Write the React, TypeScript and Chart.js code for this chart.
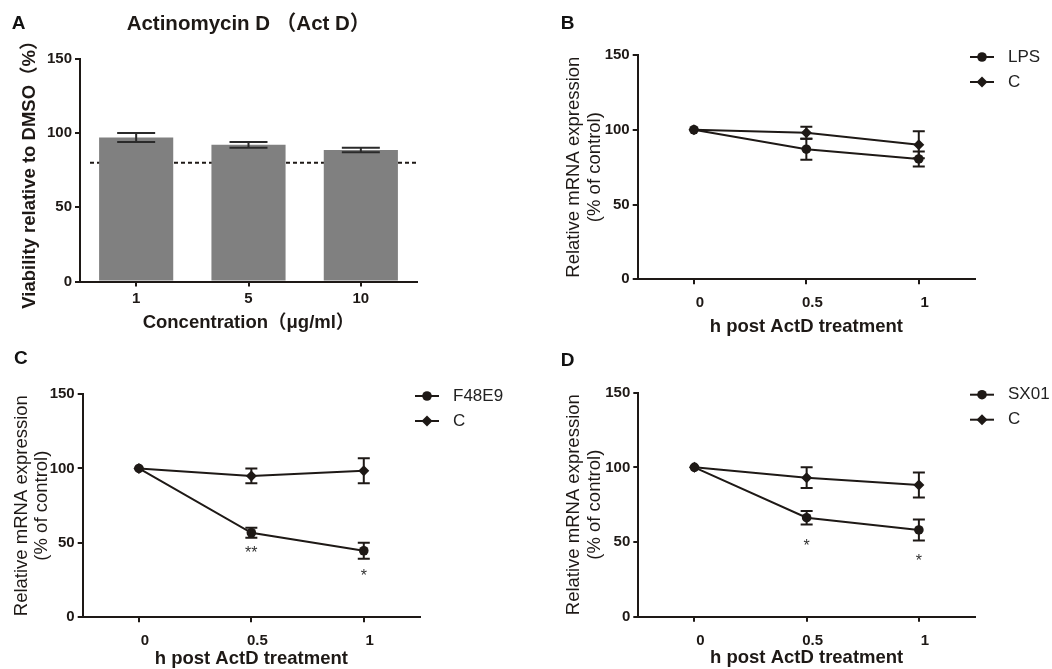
import React, { useEffect, useRef } from "react";
import { Chart, registerables } from "chart.js";

Chart.register(...registerables);

const FONT = "'Liberation Sans', Arial, 'Noto Sans CJK SC', sans-serif";
const INK = "#1e1916";
const BAR_GRAY = "#808080";

// ---------- Panel A data ----------
const concentrations = ["1", "5", "10"];
const viability = [97, 92, 88.5];
const viabilityErr = [3, 2, 1.5];
const viabilityThreshold = 80;

// ---------- Panels B-D shared ----------
const timePoints = [0, 0.5, 1];
const yTickValues = [0, 50, 100, 150];

// Panel B
const lpsMean = [100, 87, 80.5];
const lpsErr = [0, 7, 5];
const ctrlBMean = [100, 98, 90];
const ctrlBErr = [0, 4, 9];

// Panel C
const f48e9Mean = [100, 56.8, 44.7];
const f48e9Err = [0, 3.4, 5.4];
const ctrlCMean = [100, 95, 98.5];
const ctrlCErr = [0, 5, 8.4];
const starsC = ["", "**", "*"];
const starsCLevel: (number | null)[] = [null, 45, 29.5];

// Panel D
const sx01Mean = [100, 66.3, 58.1];
const sx01Err = [0, 4.5, 7];
const ctrlDMean = [100, 93.1, 88.2];
const ctrlDErr = [0, 7, 8.4];
const starsD = ["", "*", "*"];
const starsDLevel: (number | null)[] = [null, 49.6, 39];

// ---------- plugins ----------
function drawMarker(ctx: CanvasRenderingContext2D, style: string, x: number, y: number, r: number) {
  ctx.beginPath();
  if (style === "rectRot") {
    ctx.moveTo(x, y - r);
    ctx.lineTo(x + r, y);
    ctx.lineTo(x, y + r);
    ctx.lineTo(x - r, y);
    ctx.closePath();
  } else {
    ctx.arc(x, y, r, 0, Math.PI * 2);
  }
  ctx.fill();
}

const errorBarPlugin = {
  id: "errorBars",
  afterDatasetsDraw(chart: any) {
    const { ctx } = chart;
    const yScale = chart.scales.y;
    chart.data.datasets.forEach((ds: any, di: number) => {
      const errs: number[] | undefined = ds.errors;
      if (!errs) return;
      const meta = chart.getDatasetMeta(di);
      meta.data.forEach((el: any, i: number) => {
        const e = errs[i];
        if (!e) return;
        const raw = ds.data[i];
        const v = typeof raw === "number" ? raw : raw.y;
        const x = el.x;
        const yt = yScale.getPixelForValue(v + e);
        const yb = yScale.getPixelForValue(v - e);
        const hw = ds.capHalf || 6;
        ctx.save();
        ctx.strokeStyle = ds.errorColor || INK;
        ctx.lineWidth = 2;
        ctx.beginPath();
        ctx.moveTo(x, yt);
        ctx.lineTo(x, yb);
        ctx.moveTo(x - hw, yt);
        ctx.lineTo(x + hw, yt);
        ctx.moveTo(x - hw, yb);
        ctx.lineTo(x + hw, yb);
        ctx.stroke();
        ctx.restore();
      });
    });
  },
};

const thresholdPlugin = {
  id: "threshold",
  beforeDatasetsDraw(chart: any, _a: any, opts: any) {
    if (!opts || opts.value == null) return;
    const { ctx, chartArea } = chart;
    const y = chart.scales.y.getPixelForValue(opts.value);
    ctx.save();
    ctx.strokeStyle = INK;
    ctx.lineWidth = 2;
    ctx.setLineDash([4, 3]);
    ctx.beginPath();
    ctx.moveTo(chartArea.left + 10, y);
    ctx.lineTo(chartArea.right, y);
    ctx.stroke();
    ctx.restore();
  },
};

const starsPlugin = {
  id: "stars",
  afterDatasetsDraw(chart: any) {
    const { ctx } = chart;
    const yScale = chart.scales.y;
    chart.data.datasets.forEach((ds: any, di: number) => {
      if (!ds.stars) return;
      const meta = chart.getDatasetMeta(di);
      meta.data.forEach((el: any, i: number) => {
        const s = ds.stars[i];
        const lvl = ds.starLevels[i];
        if (!s || lvl == null) return;
        ctx.save();
        ctx.fillStyle = "#333";
        ctx.font = `16px ${FONT}`;
        ctx.textAlign = "center";
        ctx.textBaseline = "middle";
        ctx.fillText(s, el.x, yScale.getPixelForValue(lvl) + 3.5);
        ctx.restore();
      });
    });
  },
};

const lineLegendPlugin = {
  id: "lineLegend",
  afterDraw(chart: any, _a: any, opts: any) {
    if (!opts || !opts.show) return;
    const { ctx, chartArea } = chart;
    ctx.save();
    chart.data.datasets.forEach((ds: any, i: number) => {
      const y = chartArea.top + opts.dy + i * opts.gap;
      const x0 = chartArea.right + opts.dx;
      ctx.strokeStyle = INK;
      ctx.lineWidth = 2;
      ctx.beginPath();
      ctx.moveTo(x0, y);
      ctx.lineTo(x0 + 24, y);
      ctx.stroke();
      ctx.fillStyle = INK;
      drawMarker(ctx, ds.pointStyle, x0 + 12, y, ds.pointRadius);
      ctx.fillStyle = "#222";
      ctx.font = `17px ${FONT}`;
      ctx.textAlign = "left";
      ctx.textBaseline = "middle";
      ctx.fillText(ds.label, x0 + 38, y);
    });
    ctx.restore();
  },
};

// ---------- configs ----------
const tickFont = { family: FONT, size: 15, weight: "bold" as const };

function barConfig(): any {
  const W = 530, H = 340, L = 80, R = 417, B = 281.5;
  return {
    type: "bar",
    data: {
      labels: concentrations,
      datasets: [
        {
          data: viability,
          errors: viabilityErr,
          capHalf: 19,
          errorColor: "#2a2a2a",
          backgroundColor: BAR_GRAY,
          borderWidth: 0,
          barPercentage: 0.66,
          categoryPercentage: 1,
        },
      ],
    },
    options: {
      animation: false,
      responsive: false,
      maintainAspectRatio: false,
      layout: { padding: { left: 0, top: 0, right: W - R, bottom: 0 } },
      plugins: {
        legend: { display: false },
        tooltip: { enabled: false },
        title: {
          display: true,
          text: "Actinomycin D （Act D）",
          fullSize: false,
          color: INK,
          font: { family: FONT, size: 20.5, weight: "bold", lineHeight: 1.2 },
          padding: { top: 11.9, bottom: 22.2 },
        },
        threshold: { value: viabilityThreshold },
      },
      scales: {
        x: {
          grid: { display: true, offset: false, drawOnChartArea: false, drawTicks: true, tickLength: 5, color: INK, lineWidth: 2 },
          border: { display: true, color: INK, width: 2 },
          ticks: { color: INK, font: tickFont, padding: 3, maxRotation: 0 },
          title: {
            display: true,
            text: "Concentration（μg/ml）",
            color: INK,
            font: { family: FONT, size: 18.5, weight: "bold", lineHeight: 1 },
            padding: { top: 0, bottom: 7.4 },
          },
          afterFit: (s: any) => {
            s.height = H - B;
          },
        },
        y: {
          min: 0,
          max: 150,
          afterBuildTicks: (s: any) => {
            s.ticks = yTickValues.map((v) => ({ value: v }));
          },
          grid: { display: true, drawOnChartArea: false, drawTicks: true, tickLength: 5, color: INK, lineWidth: 2 },
          border: { display: true, color: INK, width: 2 },
          ticks: { color: INK, font: tickFont, padding: 3 },
          title: {
            display: true,
            text: "Viability relative to DMSO（%）",
            color: INK,
            font: { family: FONT, size: 18.5, weight: "bold", lineHeight: 1 },
            padding: { top: 20.2, bottom: 0 },
          },
          afterFit: (s: any) => {
            s.width = L;
          },
        },
      },
    },
    plugins: [thresholdPlugin, errorBarPlugin],
  };
}

type LineP = {
  W: number; H: number; L: number; T: number; R: number; B: number;
  yTitlePad: number; yTitleLH: number; xTitlePad: number;
  name: string; mean: number[]; err: number[]; ctrl: number[]; ctrlErr: number[];
  stars?: string[]; starLevels?: (number | null)[];
};

function lineConfig(p: LineP): any {
  const pts = (arr: number[]) => timePoints.map((t, i) => ({ x: t, y: arr[i] }));
  return {
    type: "line",
    data: {
      datasets: [
        {
          label: p.name,
          data: pts(p.mean),
          errors: p.err,
          capHalf: 6,
          stars: p.stars,
          starLevels: p.starLevels,
          borderColor: INK,
          borderWidth: 2,
          backgroundColor: INK,
          pointStyle: "circle",
          pointRadius: 4.8,
          pointBackgroundColor: INK,
          pointBorderColor: INK,
          pointBorderWidth: 0,
          tension: 0,
          order: 1,
        },
        {
          label: "C",
          data: pts(p.ctrl),
          errors: p.ctrlErr,
          capHalf: 6,
          borderColor: INK,
          borderWidth: 2,
          backgroundColor: INK,
          pointStyle: "rectRot",
          pointRadius: 5.5,
          pointBackgroundColor: INK,
          pointBorderColor: INK,
          pointBorderWidth: 0,
          tension: 0,
          order: 0,
        },
      ],
    },
    options: {
      animation: false,
      responsive: false,
      maintainAspectRatio: false,
      layout: { padding: { left: 0, top: p.T, right: p.W - p.R, bottom: 0 } },
      plugins: {
        legend: { display: false },
        tooltip: { enabled: false },
        lineLegend: { show: true, dx: -5, dy: 2, gap: 25 },
      },
      scales: {
        x: {
          type: "linear",
          min: -0.25,
          max: 1.25,
          afterBuildTicks: (s: any) => {
            s.ticks = timePoints.map((v) => ({ value: v }));
          },
          grid: { display: true, drawOnChartArea: false, drawTicks: true, tickLength: 5, color: INK, lineWidth: 2 },
          border: { display: true, color: INK, width: 2 },
          ticks: {
            color: INK,
            font: tickFont,
            padding: 10,
            labelOffset: 6,
            maxRotation: 0,
            autoSkip: false,
            callback: (v: any) => String(v),
          },
          title: {
            display: true,
            text: "h post ActD treatment",
            color: INK,
            font: { family: FONT, size: 18.5, weight: "bold", lineHeight: 1 },
            padding: { top: 0, bottom: p.xTitlePad },
          },
          afterFit: (s: any) => {
            s.height = p.H - p.B;
          },
        },
        y: {
          min: 0,
          max: 150,
          afterBuildTicks: (s: any) => {
            s.ticks = yTickValues.map((v) => ({ value: v }));
          },
          grid: { display: true, drawOnChartArea: false, drawTicks: true, tickLength: 5, color: INK, lineWidth: 2 },
          border: { display: true, color: INK, width: 2 },
          ticks: { color: INK, font: tickFont, padding: 3 },
          title: {
            display: true,
            text: ["Relative mRNA expression", "(% of control)"],
            color: INK,
            font: { family: FONT, size: 18.5, weight: "normal", lineHeight: p.yTitleLH },
            padding: { top: p.yTitlePad, bottom: 0 },
          },
          afterFit: (s: any) => {
            s.width = p.L;
          },
        },
      },
    },
    plugins: [errorBarPlugin, starsPlugin, lineLegendPlugin],
  };
}

// ---------- components ----------
function ChartPanel(props: { left: number; top: number; width: number; height: number; make: () => any }) {
  const ref = useRef<HTMLCanvasElement>(null);
  useEffect(() => {
    if (!ref.current) return;
    const chart = new Chart(ref.current, props.make());
    return () => chart.destroy();
  }, []);
  return (
    <canvas
      ref={ref}
      width={props.width}
      height={props.height}
      style={{ position: "absolute", left: props.left, top: props.top, width: props.width, height: props.height }}
    />
  );
}

function Letter(props: { text: string; left: number; top: number }) {
  return (
    <div
      style={{
        position: "absolute",
        left: props.left,
        top: props.top,
        fontFamily: FONT,
        fontWeight: "bold",
        fontSize: 19,
        lineHeight: "19px",
        color: "#111",
      }}
    >
      {props.text}
    </div>
  );
}

export default function App() {
  return (
    <div
      style={{
        position: "absolute",
        left: 0,
        top: 0,
        width: 1052,
        height: 669,
        overflow: "hidden",
        background: "#fff",
      }}
    >
      <ChartPanel left={0} top={0} width={530} height={340} make={barConfig} />
      <ChartPanel
        left={530}
        top={0}
        width={522}
        height={340}
        make={() =>
          lineConfig({
            W: 522, H: 340, L: 107.7, T: 55, R: 445, B: 279.3,
            yTitlePad: 33.5, yTitleLH: 1.135, xTitlePad: 3.8,
            name: "LPS", mean: lpsMean, err: lpsErr, ctrl: ctrlBMean, ctrlErr: ctrlBErr,
          })
        }
      />
      <ChartPanel
        left={0}
        top={335}
        width={530}
        height={334}
        make={() =>
          lineConfig({
            W: 530, H: 334, L: 82.7, T: 59, R: 420, B: 282.3,
            yTitlePad: 12.5, yTitleLH: 1.06, xTitlePad: 0.8,
            name: "F48E9", mean: f48e9Mean, err: f48e9Err, ctrl: ctrlCMean, ctrlErr: ctrlCErr,
            stars: starsC, starLevels: starsCLevel,
          })
        }
      />
      <ChartPanel
        left={530}
        top={335}
        width={522}
        height={334}
        make={() =>
          lineConfig({
            W: 522, H: 334, L: 108.3, T: 57.7, R: 445, B: 281.7,
            yTitlePad: 33.5, yTitleLH: 1.135, xTitlePad: 1.8,
            name: "SX01", mean: sx01Mean, err: sx01Err, ctrl: ctrlDMean, ctrlErr: ctrlDErr,
            stars: starsD, starLevels: starsDLevel,
          })
        }
      />
      <Letter text="A" left={11.7} top={12.5} />
      <Letter text="B" left={560.7} top={12.5} />
      <Letter text="C" left={14} top={348} />
      <Letter text="D" left={560.7} top={349.8} />
    </div>
  );
}
